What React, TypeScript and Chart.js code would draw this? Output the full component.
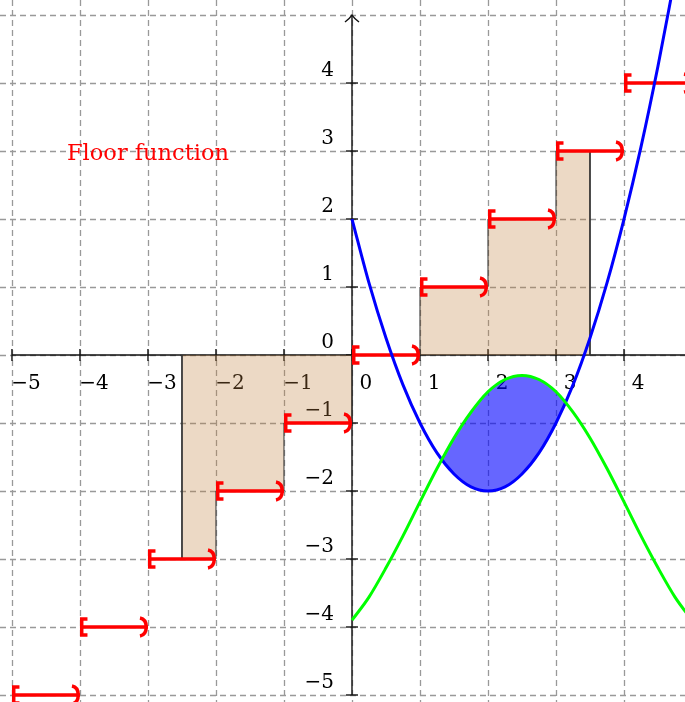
import React, { useEffect, useRef } from "react";
import { Chart, registerables } from "chart.js";

Chart.register(...registerables);

// Visible window of the plane
const xMin = -5.176;
const xMax = 4.897;
const yMin = -5.103;
const yMax = 5.221;

// Sample abscissas of the two smooth curves
const curveX = [0, 0.25, 0.5, 0.75, 1, 1.25, 1.5, 1.75, 2, 2.25, 2.5, 2.75, 3, 3.25, 3.5, 3.75, 4, 4.25, 4.5, 4.75, 5];
// Parabola (blue), read at the sample abscissas
const parabolaY = [2, 1.06, 0.25, -0.44, -1, -1.44, -1.75, -1.94, -2, -1.94, -1.75, -1.44, -1, -0.44, 0.25, 1.06, 2, 3.06, 4.25, 5.56];
// Wave (green), read at the sample abscissas
const waveY = [-3.9, -3.56, -3.13, -2.66, -2.16, -1.67, -1.22, -0.84, -0.54, -0.36, -0.3, -0.36, -0.54, -0.84, -1.22, -1.67, -2.16, -2.66, -3.13, -3.56, -3.9];

// Floor function: on [start, start + 1) the value is floorValues[i]
const floorStarts = [-5, -4, -3, -2, -1, 0, 1, 2, 3, 4];
const floorValues = [-5, -4, -3, -2, -1, 0, 1, 2, 3, 4];
// Shaded area under the floor function
const shadeFrom = -2.5;
const shadeTo = 3.5;

// Axis ticks and labels
const xTicks = [-5, -4, -3, -2, -1, 0, 1, 2, 3, 4];
const xTickLabels = ["−5", "−4", "−3", "−2", "−1", "0", "1", "2", "3", "4"];
const yTicks = [-5, -4, -3, -2, -1, 0, 1, 2, 3, 4];
const yTickLabels = ["−5", "−4", "−3", "−2", "−1", "0", "1", "2", "3", "4"];
const gridX = [-6, -5, -4, -3, -2, -1, 0, 1, 2, 3, 4, 5];
const gridY = [-6, -5, -4, -3, -2, -1, 0, 1, 2, 3, 4, 5];
const axisXRange = [-5, 6];
const axisYRange = [-5, 5];

const title = "Floor function";
const titleAt = { x: -3, y: 3 };

const FONT = '"DejaVu Serif", serif';

export default function App() {
  const canvasRef = useRef<HTMLCanvasElement | null>(null);

  useEffect(() => {
    const canvas = canvasRef.current;
    if (!canvas) return;

    const parabola = parabolaY.map((y, i) => ({ x: curveX[i], y }));
    const wave = waveY.map((y, i) => ({ x: curveX[i], y }));

    const floorPts: { x: number; y: number | null }[] = [];
    floorStarts.forEach((s, i) => {
      floorPts.push({ x: s, y: floorValues[i] });
      floorPts.push({ x: s + 1, y: floorValues[i] });
      floorPts.push({ x: s + 1, y: null });
    });

    const shadePts: { x: number; y: number }[] = [{ x: shadeFrom, y: 0 }];
    floorStarts.forEach((s, i) => {
      const a = Math.max(s, shadeFrom);
      const b = Math.min(s + 1, shadeTo);
      if (b > a) {
        shadePts.push({ x: a, y: floorValues[i] });
        shadePts.push({ x: b, y: floorValues[i] });
      }
    });
    shadePts.push({ x: shadeTo, y: 0 });

    const backdrop = {
      id: "backdrop",
      beforeDatasetsDraw(chart: any) {
        const { ctx, chartArea } = chart;
        const xs = chart.scales.x;
        const ys = chart.scales.y;
        const x0 = xs.getPixelForValue(0);
        const y0 = ys.getPixelForValue(0);
        ctx.save();
        // dashed grid
        ctx.strokeStyle = "#999999";
        ctx.lineWidth = 1.3;
        ctx.setLineDash([6, 4]);
        gridX.forEach((v) => {
          const p = Math.round(xs.getPixelForValue(v)) + 0.5;
          ctx.beginPath();
          ctx.moveTo(p, chartArea.top);
          ctx.lineTo(p, chartArea.bottom);
          ctx.stroke();
        });
        gridY.forEach((v) => {
          const p = Math.round(ys.getPixelForValue(v)) + 0.5;
          ctx.beginPath();
          ctx.moveTo(chartArea.left, p);
          ctx.lineTo(chartArea.right, p);
          ctx.stroke();
        });
        ctx.setLineDash([]);
        // axes
        ctx.strokeStyle = "#111";
        ctx.lineWidth = 1.4;
        ctx.beginPath();
        ctx.moveTo(xs.getPixelForValue(axisXRange[0]), y0);
        ctx.lineTo(xs.getPixelForValue(axisXRange[1]), y0);
        ctx.stroke();
        const yTop = ys.getPixelForValue(axisYRange[1]);
        ctx.beginPath();
        ctx.moveTo(x0, ys.getPixelForValue(axisYRange[0]));
        ctx.lineTo(x0, yTop);
        ctx.stroke();
        // arrow tip on the vertical axis
        ctx.beginPath();
        ctx.moveTo(x0 - 7, yTop + 7);
        ctx.quadraticCurveTo(x0 - 2, yTop + 3, x0, yTop);
        ctx.quadraticCurveTo(x0 + 2, yTop + 3, x0 + 7, yTop + 7);
        ctx.stroke();
        // tick marks
        xTicks.forEach((v) => {
          const p = xs.getPixelForValue(v);
          ctx.beginPath();
          ctx.moveTo(p, y0 - 6);
          ctx.lineTo(p, y0 + 6);
          ctx.stroke();
        });
        yTicks.forEach((v) => {
          const p = ys.getPixelForValue(v);
          ctx.beginPath();
          ctx.moveTo(x0 - 6, p);
          ctx.lineTo(x0 + 6, p);
          ctx.stroke();
        });
        // tick labels
        ctx.fillStyle = "#000";
        ctx.font = `20px ${FONT}`;
        ctx.textBaseline = "middle";
        ctx.textAlign = "center";
        xTicks.forEach((v, i) => {
          ctx.fillText(xTickLabels[i], xs.getPixelForValue(v) + 14, y0 + 29);
        });
        ctx.textAlign = "right";
        yTicks.forEach((v, i) => {
          ctx.fillText(yTickLabels[i], x0 - 18, ys.getPixelForValue(v) - 12);
        });
        // title
        ctx.fillStyle = "#ff0000";
        ctx.font = `22.5px ${FONT}`;
        ctx.textAlign = "center";
        ctx.fillText(title, xs.getPixelForValue(titleAt.x), ys.getPixelForValue(titleAt.y) + 3);
        ctx.restore();
      },
    };

    const brackets = {
      id: "brackets",
      afterDatasetsDraw(chart: any) {
        const { ctx } = chart;
        const xs = chart.scales.x;
        const ys = chart.scales.y;
        ctx.save();
        ctx.strokeStyle = "#ff0000";
        ctx.lineWidth = 3.5;
        ctx.lineJoin = "miter";
        ctx.lineCap = "butt";
        floorStarts.forEach((s, i) => {
          const py = ys.getPixelForValue(floorValues[i]);
          const pa = xs.getPixelForValue(s);
          const pb = xs.getPixelForValue(s + 1);
          // closed end
          ctx.beginPath();
          ctx.moveTo(pa + 7.5, py - 8);
          ctx.lineTo(pa + 1.75, py - 8);
          ctx.lineTo(pa + 1.75, py + 8);
          ctx.lineTo(pa + 7.5, py + 8);
          ctx.stroke();
          // open end
          ctx.beginPath();
          ctx.moveTo(pb - 8, py - 9);
          ctx.bezierCurveTo(pb - 3, py - 8, pb - 1.75, py - 4, pb - 1.75, py);
          ctx.bezierCurveTo(pb - 1.75, py + 4, pb - 3, py + 8, pb - 8, py + 9);
          ctx.stroke();
        });
        ctx.restore();
      },
    };

    const chart = new Chart(canvas, {
      type: "line",
      data: {
        datasets: [
          {
            label: "wave",
            data: wave,
            borderColor: "#00ff00",
            borderWidth: 3,
            pointRadius: 0,
            cubicInterpolationMode: "monotone",
            fill: { target: 1, above: "rgba(0,0,255,0.6)", below: "rgba(0,0,0,0)" },
          },
          {
            label: "parabola",
            data: parabola,
            borderColor: "#0000ff",
            borderWidth: 3,
            pointRadius: 0,
            cubicInterpolationMode: "monotone",
            fill: false,
          },
          {
            label: "floor",
            data: floorPts,
            borderColor: "#ff0000",
            borderWidth: 3.5,
            pointRadius: 0,
            spanGaps: false,
            tension: 0,
            fill: false,
          },
          {
            label: "shade",
            data: shadePts,
            borderColor: "#333333",
            borderWidth: 1,
            backgroundColor: "rgba(191,128,64,0.3)",
            pointRadius: 0,
            tension: 0,
            fill: "origin",
          },
        ],
      },
      options: {
        animation: false,
        responsive: false,
        maintainAspectRatio: false,
        devicePixelRatio: 1,
        layout: { padding: 0 },
        parsing: true,
        plugins: {
          legend: { display: false },
          tooltip: { enabled: false },
          filler: { propagate: false },
        },
        scales: {
          x: { type: "linear", min: xMin, max: xMax, display: false },
          y: { type: "linear", min: yMin, max: yMax, display: false },
        },
      },
      plugins: [backdrop, brackets],
    } as any);

    return () => chart.destroy();
  }, []);

  return (
    <div style={{ position: "absolute", left: 0, top: 0, width: 685, height: 702, background: "#fff" }}>
      <canvas ref={canvasRef} width={685} height={702} style={{ display: "block" }} />
    </div>
  );
}
